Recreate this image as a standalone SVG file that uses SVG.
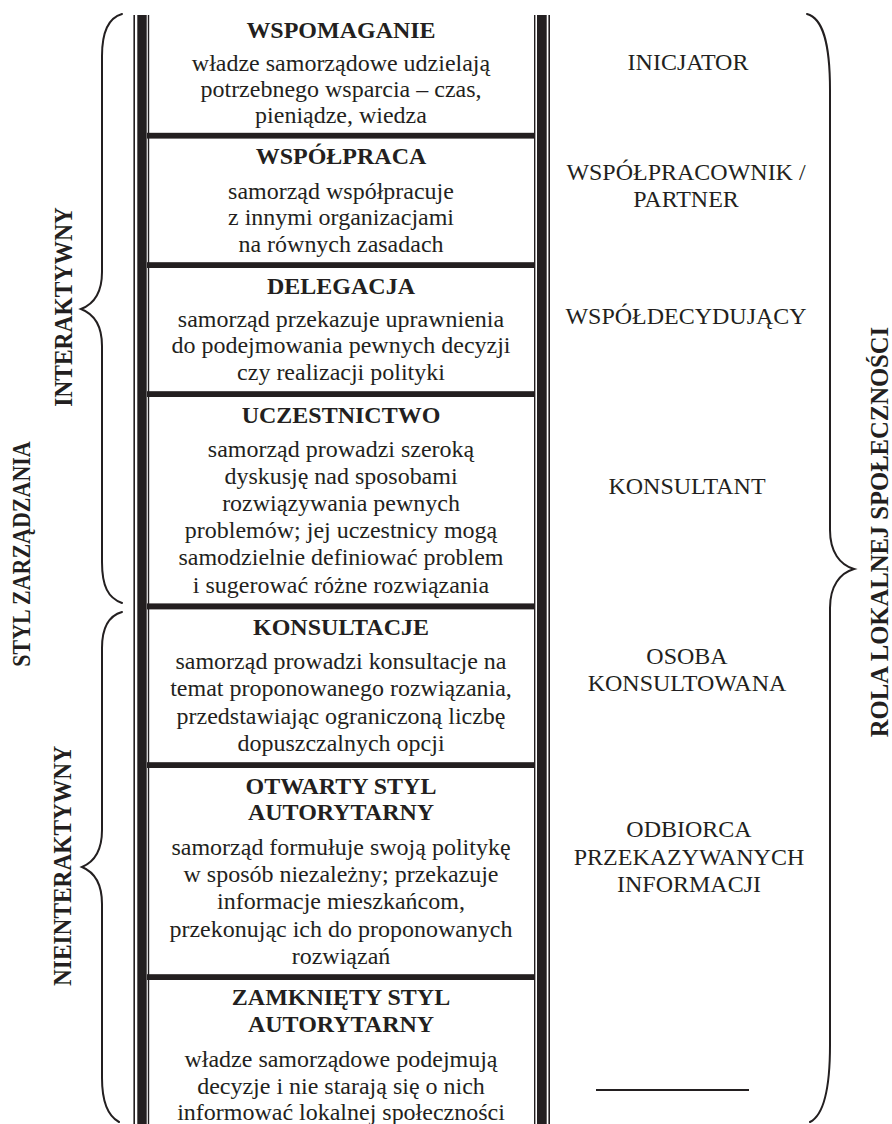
<svg xmlns="http://www.w3.org/2000/svg" width="892" height="1124" viewBox="0 0 892 1124">
<style>
text{font-family:"Liberation Serif","Times New Roman",serif;fill:#231f20;font-size:24px;text-anchor:middle}
.b{font-weight:bold}
.v{font-weight:bold;font-size:25.5px}
.brace{fill:none;stroke:#231f20;stroke-width:2;stroke-linecap:round}
.bar{fill:#231f20}
</style>
<rect x="0" y="0" width="892" height="1124" fill="#ffffff"/>
<g id="frame">
<rect class="bar" x="133.4" y="15" width="1.6" height="1109"/>
<rect class="bar" x="137.3" y="15" width="9.4" height="1109"/>
<rect class="bar" x="147.8" y="15" width="1.4" height="1109"/>
<rect class="bar" x="534" y="15" width="1.4" height="1109"/>
<rect class="bar" x="537" y="15" width="9.7" height="1109"/>
<rect class="bar" x="548.4" y="15" width="1.6" height="1109"/>
<rect class="bar" x="147" y="132.8" width="388" height="5.8"/>
<rect class="bar" x="147" y="262.2" width="388" height="5.8"/>
<rect class="bar" x="147" y="391.2" width="388" height="5.8"/>
<rect class="bar" x="147" y="603.4" width="388" height="6"/>
<rect class="bar" x="147" y="762.2" width="388" height="5.8"/>
<rect class="bar" x="147" y="974.2" width="388" height="5.8"/>
</g>
<g id="connectors">
<path class="brace" d="M122 14 C108 18 102 32 102 56 L102 272 C102 292 94 304 81 309 C94 314 102 326 102 346 L102 562 C102 586 108 598 122 603"/>
<path class="brace" d="M122 612 C108 616 102 628 102 648 L102 830 C102 850 94 862 82 867 C94 872 102 884 102 904 L102 1078 C102 1102 108 1116 119 1122"/>
<path class="brace" d="M807 14 C822 18 830 40 830 90 L830 530 C830 552 840 565 854 569 C840 573 830 586 830 608 L830 1045 C830 1095 822 1116 810 1122"/>
</g>
<g id="label-styl">
<text class="v" transform="matrix(0 -0.92 1 0 29.5 554)" textLength="245" lengthAdjust="spacingAndGlyphs">STYL ZARZĄDZANIA</text>
</g>
<g id="label-interaktywny">
<text class="v" transform="matrix(0 -0.92 1 0 71.5 307)" textLength="217" lengthAdjust="spacingAndGlyphs">INTERAKTYWNY</text>
</g>
<g id="label-nieinteraktywny">
<text class="v" transform="matrix(0 -0.92 1 0 71 866)" textLength="261" lengthAdjust="spacingAndGlyphs">NIEINTERAKTYWNY</text>
</g>
<g id="label-rola">
<text class="v" transform="matrix(0 -0.92 1 0 888 532)" textLength="446" lengthAdjust="spacingAndGlyphs">ROLA LOKALNEJ SPOŁECZNOŚCI</text>
</g>
<g id="node-wspomaganie">
<text class="b" transform="matrix(1 0 0 0.92 341 38)">WSPOMAGANIE</text>
<text transform="matrix(1 0 0 0.92 341 71)">władze samorządowe udzielają</text>
<text transform="matrix(1 0 0 0.92 341 97)">potrzebnego wsparcia – czas,</text>
<text transform="matrix(1 0 0 0.92 341 123)">pieniądze, wiedza</text>
</g>
<g id="node-wspolpraca">
<text class="b" transform="matrix(1 0 0 0.92 341 164)">WSPÓŁPRACA</text>
<text transform="matrix(1 0 0 0.92 341 198.5)">samorząd współpracuje</text>
<text transform="matrix(1 0 0 0.92 341 225)">z innymi organizacjami</text>
<text transform="matrix(1 0 0 0.92 341 252)">na równych zasadach</text>
</g>
<g id="node-delegacja">
<text class="b" transform="matrix(1 0 0 0.92 341 293.5)">DELEGACJA</text>
<text transform="matrix(1 0 0 0.92 341 327)">samorząd przekazuje uprawnienia</text>
<text transform="matrix(1 0 0 0.92 341 353)">do podejmowania pewnych decyzji</text>
<text transform="matrix(1 0 0 0.92 341 379.5)">czy realizacji polityki</text>
</g>
<g id="node-uczestnictwo">
<text class="b" transform="matrix(1 0 0 0.92 341 423)">UCZESTNICTWO</text>
<text transform="matrix(1 0 0 0.92 341 457)">samorząd prowadzi szeroką</text>
<text transform="matrix(1 0 0 0.92 341 484)">dyskusję nad sposobami</text>
<text transform="matrix(1 0 0 0.92 341 511)">rozwiązywania pewnych</text>
<text transform="matrix(1 0 0 0.92 341 538)">problemów; jej uczestnicy mogą</text>
<text transform="matrix(1 0 0 0.92 341 565)">samodzielnie definiować problem</text>
<text transform="matrix(1 0 0 0.92 341 592.5)">i sugerować różne rozwiązania</text>
</g>
<g id="node-konsultacje">
<text class="b" transform="matrix(1 0 0 0.92 341 635)">KONSULTACJE</text>
<text transform="matrix(1 0 0 0.92 341 669)">samorząd prowadzi konsultacje na</text>
<text transform="matrix(1 0 0 0.92 341 696)">temat proponowanego rozwiązania,</text>
<text transform="matrix(1 0 0 0.92 341 723.5)">przedstawiając ograniczoną liczbę</text>
<text transform="matrix(1 0 0 0.92 341 751)">dopuszczalnych opcji</text>
</g>
<g id="node-otwarty">
<text class="b" transform="matrix(1 0 0 0.92 341 793.5)">OTWARTY STYL</text>
<text class="b" transform="matrix(1 0 0 0.92 341 820)">AUTORYTARNY</text>
<text transform="matrix(1 0 0 0.92 341 855)">samorząd formułuje swoją politykę</text>
<text transform="matrix(1 0 0 0.92 341 882)">w sposób niezależny; przekazuje</text>
<text transform="matrix(1 0 0 0.92 341 909)">informacje mieszkańcom,</text>
<text transform="matrix(1 0 0 0.92 341 936.5)">przekonując ich do proponowanych</text>
<text transform="matrix(1 0 0 0.92 341 963.5)">rozwiązań</text>
</g>
<g id="node-zamkniety">
<text class="b" transform="matrix(1 0 0 0.92 341 1005)">ZAMKNIĘTY STYL</text>
<text class="b" transform="matrix(1 0 0 0.92 341 1031.5)">AUTORYTARNY</text>
<text transform="matrix(1 0 0 0.92 341 1066.5)">władze samorządowe podejmują</text>
<text transform="matrix(1 0 0 0.92 341 1093.5)">decyzje i nie starają się o nich</text>
<text transform="matrix(1 0 0 0.92 341 1120)">informować lokalnej społeczności</text>
</g>
<g id="role-inicjator"><text transform="matrix(1 0 0 0.92 688 69.5)">INICJATOR</text></g>
<g id="role-wspolpracownik">
<text transform="matrix(1 0 0 0.92 686 180)">WSPÓŁPRACOWNIK /</text>
<text transform="matrix(1 0 0 0.92 686 206.5)">PARTNER</text>
</g>
<g id="role-wspoldecydujacy"><text transform="matrix(1 0 0 0.92 686 323.5)">WSPÓŁDECYDUJĄCY</text></g>
<g id="role-konsultant"><text transform="matrix(1 0 0 0.92 687 494)">KONSULTANT</text></g>
<g id="role-osoba">
<text transform="matrix(1 0 0 0.92 687 664)">OSOBA</text>
<text transform="matrix(1 0 0 0.92 687 691)">KONSULTOWANA</text>
</g>
<g id="role-odbiorca">
<text transform="matrix(1 0 0 0.92 689 837)">ODBIORCA</text>
<text transform="matrix(1 0 0 0.92 689 864.5)">PRZEKAZYWANYCH</text>
<text transform="matrix(1 0 0 0.92 689 892)">INFORMACJI</text>
</g>
<g id="role-none">
<line x1="596" y1="1090" x2="749" y2="1090" stroke="#231f20" stroke-width="2"/>
</g>
</svg>
